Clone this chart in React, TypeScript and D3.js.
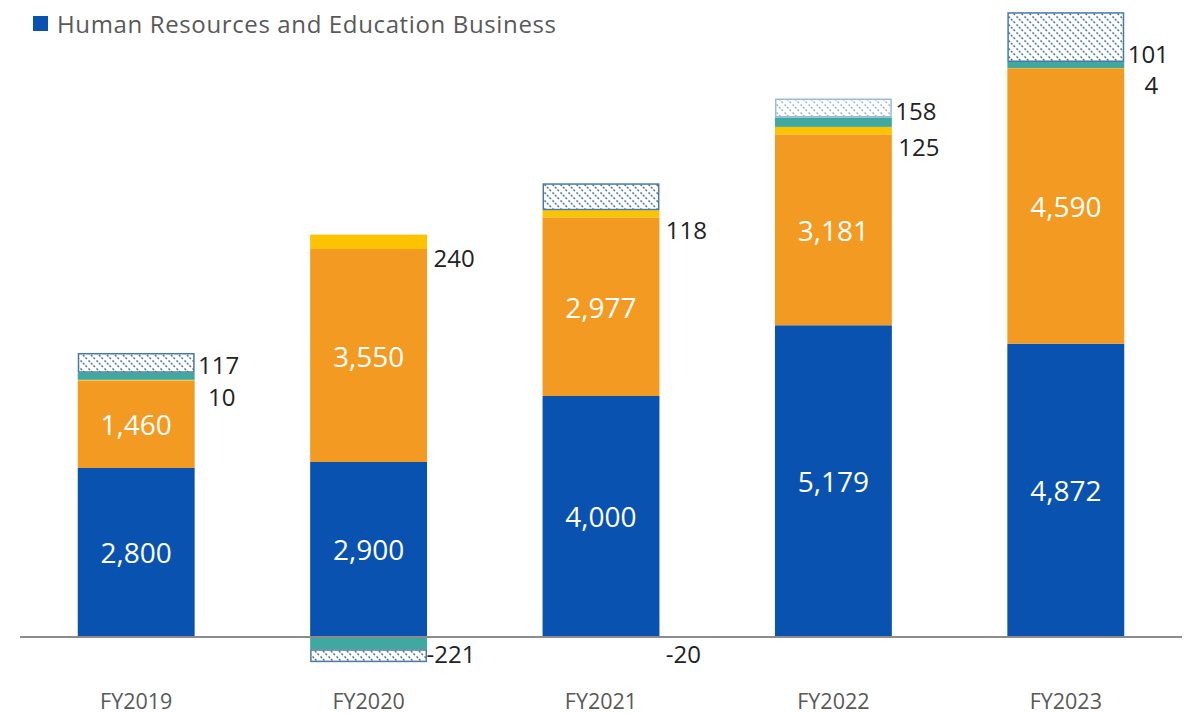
import React from "react";
import * as d3 from "d3";

const categories = ["FY2019", "FY2020", "FY2021", "FY2022", "FY2023"];
const hrEducation = [2800, 2900, 4000, 5179, 4872];
const segmentB = [1460, 3550, 2977, 3181, 4590];
const segmentC = [10, 240, 118, 125, 4];
const segmentD = [117, -221, -20, 158, 101];
const adjustments = [330, -215, 450, 315, 830];
const legendLabel = "Human Resources and Education Business";

const W = 1188;
const H = 714;
const FONT = "'Open Sans', 'Noto Sans', sans-serif";

const keys = ["hr", "b", "c", "d", "adj"] as const;
const colors: Record<string, string> = {
  hr: "#0A52B0",
  b: "#F29A21",
  c: "#FCC300",
  d: "#3FA9A0",
};

export default function App() {
  const rows = categories.map((cat, i) => ({
    cat,
    hr: hrEducation[i],
    b: segmentB[i],
    c: segmentC[i],
    d: segmentD[i],
    adj: adjustments[i],
  }));

  const stack = d3
    .stack<any>()
    .keys(keys as unknown as string[])
    .offset(d3.stackOffsetDiverging);
  const series = stack(rows);

  const x = d3.scaleBand().domain(categories).range([20, 1182]).paddingInner(0.497).paddingOuter(0.2485);
  const y = d3.scaleLinear().domain([-1000, 10500]).range([696, 6]);
  const bw = x.bandwidth();
  const fmt = d3.format(",");

  const byKey: Record<string, any> = {};
  series.forEach((s) => (byKey[s.key] = s));

  const hatchPattern = (id: string, color: string) => (
    <pattern id={id} patternUnits="userSpaceOnUse" width={8} height={8}>
      <rect width={8} height={8} fill="#fff" />
      <path d="M-2,-2 L10,10 M-2,6 L2,10 M6,-2 L10,2" stroke={color} strokeWidth={1.5} strokeDasharray="2.2 1.3" />
    </pattern>
  );

  return (
    <svg width={W} height={H} style={{ position: "absolute", left: 0, top: 0, background: "#fff" }}>
      <defs>
        {hatchPattern("hatch", "#4A78A4")}
        {hatchPattern("hatchLight", "#9DBAD4")}
      </defs>

      {/* legend */}
      <rect x={33} y={16} width={15} height={15} fill={colors.hr} />
      <text x={57} y={33} fontFamily={FONT} fontSize={24} fill="#595959" textLength={499} lengthAdjust="spacing">
        {legendLabel}
      </text>

      {/* bars */}
      {series.map((s) =>
        s.map((d: any, i: number) => {
          const y0 = y(Math.max(d[0], d[1]));
          const y1 = y(Math.min(d[0], d[1]));
          const h = Math.max(0, y1 - y0);
          const xx = x(categories[i])!;
          if (s.key === "adj") {
            const light = categories[i] === "FY2022";
            return (
              <rect
                key={s.key + i}
                x={xx + 0.75}
                y={y0 + 0.75}
                width={bw - 1.5}
                height={Math.max(0, h - 1.5)}
                fill={light ? "url(#hatchLight)" : "url(#hatch)"}
                stroke={light ? "#9DBAD4" : "#4A78A4"}
                strokeWidth={1.5}
              />
            );
          }
          return <rect key={s.key + i} x={xx} y={y0} width={bw} height={h} fill={colors[s.key]} />;
        })
      )}

      {/* axis line */}
      <line x1={20} x2={1182} y1={y(0) + 1} y2={y(0) + 1} stroke="#8C8C8C" strokeWidth={2} />

      {/* inside labels */}
      {["hr", "b"].map((k) =>
        byKey[k].map((d: any, i: number) => (
          <text
            key={"in" + k + i}
            x={x(categories[i])! + bw / 2}
            y={(y(d[0]) + y(d[1])) / 2}
            textAnchor="middle"
            dominantBaseline="central"
            fontFamily={FONT}
            fontSize={28}
            fill="#fff"
          >
            {fmt(d.data[k])}
          </text>
        ))
      )}

      {/* outside labels: segment C */}
      {byKey["c"].map((d: any, i: number) => (
        <text
          key={"c" + i}
          x={x(categories[i])! + bw + 27}
          y={(y(d[0]) + y(d[1])) / 2 + 16}
          textAnchor="middle"
          dominantBaseline="central"
          fontFamily={FONT}
          fontSize={24}
          fill="#222"
        >
          {fmt(d.data.c)}
        </text>
      ))}

      {/* outside labels: segment D */}
      {byKey["d"].map((d: any, i: number) => {
        const v = d.data.d;
        const cy = v >= 0 ? (y(d[0]) + y(d[1])) / 2 - 12 : y(0) + 17;
        return (
          <text
            key={"d" + i}
            x={x(categories[i])! + bw + (v >= 0 ? 24 : 24)}
            y={cy}
            textAnchor="middle"
            dominantBaseline="central"
            fontFamily={FONT}
            fontSize={24}
            fill="#222"
          >
            {fmt(v).replace("−", "-")}
          </text>
        );
      })}

      {/* category labels */}
      {categories.map((c) => (
        <text
          key={c}
          x={x(c)! + bw / 2}
          y={700}
          textAnchor="middle"
          dominantBaseline="central"
          fontFamily={FONT}
          fontSize={21.5}
          fill="#595959"
        >
          {c}
        </text>
      ))}
    </svg>
  );
}
